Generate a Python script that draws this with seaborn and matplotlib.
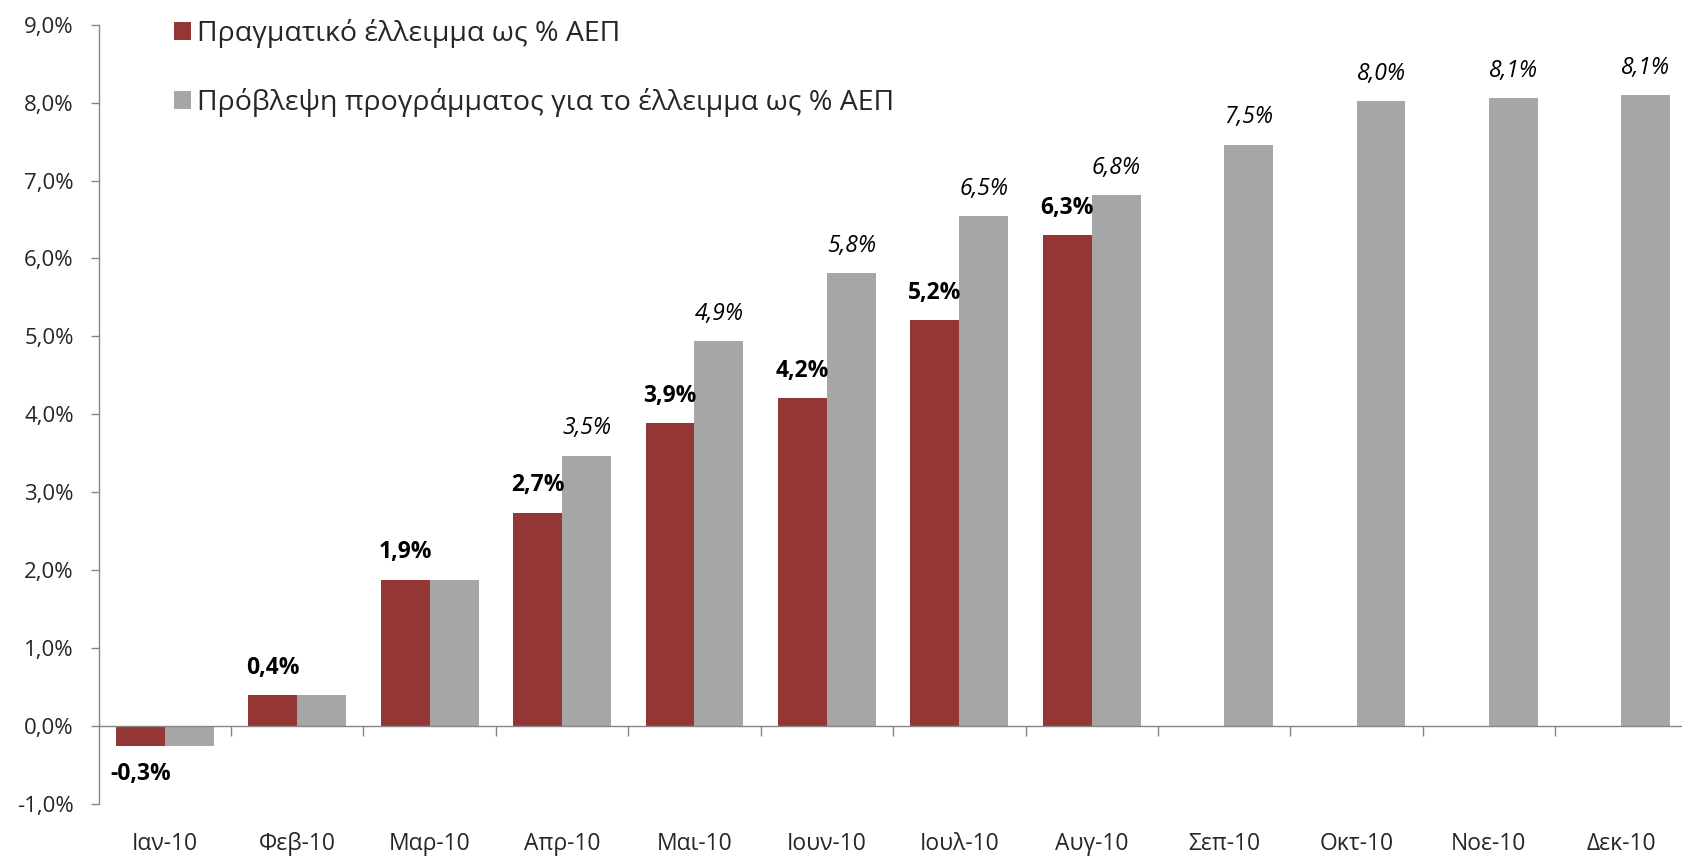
import numpy as np
import pandas as pd
import matplotlib
matplotlib.use("Agg")
import matplotlib.pyplot as plt
import seaborn as sns
from matplotlib.patches import Patch
from matplotlib.ticker import FuncFormatter, FixedLocator

months = ["Ιαν-10", "Φεβ-10", "Μαρ-10", "Απρ-10", "Μαι-10", "Ιουν-10",
          "Ιουλ-10", "Αυγ-10", "Σεπ-10", "Οκτ-10", "Νοε-10", "Δεκ-10"]
actual = [-0.26, 0.40, 1.88, 2.74, 3.89, 4.21, 5.21, 6.30,
          np.nan, np.nan, np.nan, np.nan]
forecast = [-0.26, 0.40, 1.88, 3.47, 4.94, 5.81, 6.54, 6.81,
            7.46, 8.02, 8.06, 8.10]
series_names = ["Πραγματικό έλλειμμα ως % ΑΕΠ",
                "Πρόβλεψη προγράμματος για το έλλειμμα ως % ΑΕΠ"]
colors = ["#943634", "#A6A6A6"]
yticks = [-1, 0, 1, 2, 3, 4, 5, 6, 7, 8, 9]

sns.set_theme(style="white")
plt.rcParams["font.family"] = ["Open Sans", "DejaVu Sans"]

df = pd.DataFrame({
    "month": months * 2,
    "value": actual + forecast,
    "series": [series_names[0]] * len(months) + [series_names[1]] * len(months),
})

fig = plt.figure(figsize=(16.83, 8.58), dpi=100)
ax = fig.add_axes([98.7 / 1683, 1 - 804 / 858, 12 * 132.4 / 1683, (804 - 24.7) / 858])

sns.barplot(data=df, x="month", y="value", hue="series", order=months,
            hue_order=series_names, palette=colors, width=0.74, gap=0,
            saturation=1, errorbar=None, ax=ax, legend=False, linewidth=0)

ax.set_xlim(-0.5, len(months) - 0.5)
ax.set_ylim(-1, 9)
ax.set_xlabel("")
ax.set_ylabel("")

# y axis
ax.yaxis.set_major_locator(FixedLocator(yticks))
ax.yaxis.set_major_formatter(FuncFormatter(lambda v, p: f"{v:.1f}%".replace(".", ",")))
ax.tick_params(axis="y", which="major", direction="out", length=6, width=1,
               color="#868686", pad=12, labelsize=16, left=True)
for side in ["top", "right"]:
    ax.spines[side].set_visible(False)
ax.spines["left"].set_color("#868686")
ax.spines["left"].set_linewidth(1)

# category axis line at zero with boundary ticks
ax.spines["bottom"].set_position(("data", 0))
ax.spines["bottom"].set_color("#868686")
ax.spines["bottom"].set_linewidth(1)
ax.set_xticks(range(len(months)))
ax.set_xticklabels([""] * len(months))
ax.tick_params(axis="x", which="major", length=0)
ax.xaxis.set_minor_locator(FixedLocator([i + 0.5 for i in range(len(months) - 1)]))
ax.tick_params(axis="x", which="minor", direction="out", length=7, width=1,
               color="#868686", bottom=True)

sec = ax.secondary_xaxis(0.0)
sec.set_xticks(range(len(months)))
sec.set_xticklabels(months)
sec.tick_params(axis="x", length=0, pad=20, labelsize=16.5)
sec.spines["bottom"].set_visible(False)

# value labels (forecast label omitted where it coincides with the actual value)
styles = [dict(fontweight="bold", fontstyle="normal"),
          dict(fontweight="normal", fontstyle="italic")]
for k, (cont, vals, st) in enumerate(zip(ax.containers, [actual, forecast], styles)):
    for i, (bar, v) in enumerate(zip(cont, vals)):
        if bar is None or np.isnan(v):
            continue
        if k == 1 and not np.isnan(actual[i]) and actual[i] == v:
            continue
        x = bar.get_x() + bar.get_width() / 2
        txt = f"{v:.1f}%".replace(".", ",")
        if v >= 0:
            ax.annotate(txt, (x, v), xytext=(0, 11), textcoords="offset points",
                        ha="center", va="bottom", fontsize=16.5, color="black", **st)
        else:
            ax.annotate(txt, (x, v), xytext=(0, -11), textcoords="offset points",
                        ha="center", va="top", fontsize=16.5, color="black", **st)

# legend
handles = [Patch(facecolor=c, edgecolor="none") for c in colors]
fig.legend(handles, series_names, loc="upper left",
           bbox_to_anchor=(174 / 1683, 1 - 19 / 858), frameon=False,
           fontsize=20.5, handlelength=0.6, handleheight=0.6,
           handletextpad=0.2, labelspacing=1.4, borderpad=0, borderaxespad=0)

fig.savefig("out.png", dpi=100)
